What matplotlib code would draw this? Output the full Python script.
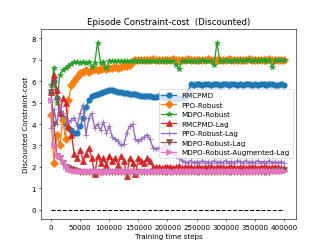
import numpy as np
import matplotlib
matplotlib.use("Agg")
import matplotlib.pyplot as plt

steps = np.arange(0, 400001, 5000)

labels = ["RMCPMD", "PPO-Robust", "MDPO-Robust", "RMCPMD-Lag", "PPO-Robust-Lag",
          "MDPO-Robust-Lag", "MDPO-Robust-Augmented-Lag"]

rmcpmd = [5.5, 6.0, 5.2, 4.5, 4.3, 4.0, 3.8, 3.7, 3.6, 3.6,
          3.9, 4.3, 4.8, 5.1, 5.3, 5.35, 5.4, 5.45, 5.5, 5.55,
          5.6, 5.58, 5.55, 5.5, 5.48, 5.45, 5.45, 5.4, 5.4, 5.38,
          5.35, 5.33, 5.3, 5.32, 5.3, 5.28, 5.28, 5.3, 5.28, 5.25,
          5.22, 5.22, 5.2, 5.18, 5.2, 5.2, 5.22, 5.5, 5.85, 5.84,
          5.86, 5.85, 5.83, 5.86, 5.85, 5.84, 5.87, 5.85, 5.83, 5.85,
          5.86, 5.84, 5.85, 5.86, 5.83, 5.85, 5.84, 5.86, 5.85, 5.84,
          5.85, 5.83, 5.86, 5.85, 5.84, 5.85, 5.86, 5.84, 5.83, 5.85, 5.84]

ppo_robust = [4.4, 2.2, 3.5, 3.0, 4.2, 3.3, 5.1, 5.8, 6.0, 6.2,
              6.4, 6.45, 6.5, 6.45, 6.5, 6.55, 6.5, 6.55, 6.6, 6.55,
              6.6, 6.6, 6.65, 6.6, 6.65, 6.7, 6.7, 6.75, 6.95, 6.98,
              7.0, 7.0, 7.01, 6.99, 7.0, 7.02, 7.0, 6.99, 7.01, 7.0,
              7.01, 7.0, 7.02, 7.0, 6.99, 7.01, 7.0, 7.02, 7.0, 7.01,
              7.0, 6.99, 7.01, 7.0, 7.02, 7.0, 7.01, 7.0, 6.99, 7.01,
              7.0, 7.02, 7.0, 7.01, 7.0, 6.99, 7.01, 7.0, 7.02, 7.0,
              7.01, 7.0, 6.99, 7.01, 7.0, 7.02, 7.0, 7.01, 7.0, 7.0, 7.0]

mdpo_robust = [5.8, 6.6, 5.0, 6.3, 6.5, 6.6, 6.7, 6.8, 6.9, 6.9,
               6.85, 6.9, 6.85, 6.9, 6.65, 6.85, 7.8, 6.85, 6.9, 6.6,
               6.92, 6.93, 6.92, 6.94, 6.93, 6.95, 6.94, 6.95, 6.95, 6.94,
               6.95, 6.96, 6.95, 6.95, 6.96, 6.95, 6.96, 6.95, 6.96, 6.96,
               6.95, 6.96, 6.95, 6.75, 6.55, 6.95, 6.96, 6.95, 6.96, 6.96,
               6.95, 6.96, 6.97, 6.96, 6.96, 6.95, 6.75, 7.8, 6.95, 6.96,
               6.97, 6.96, 6.96, 6.97, 6.96, 6.97, 6.96, 6.97, 6.97, 6.96,
               6.97, 6.96, 6.97, 6.97, 6.96, 6.97, 6.65, 6.97, 6.98, 6.97, 6.98]

rmcpmd_lag = [5.5, 6.3, 5.6, 4.5, 5.2, 5.0, 3.9, 3.5, 2.6, 2.4,
              2.8, 2.3, 2.6, 2.9, 2.4, 1.65, 2.5, 2.2, 2.4, 2.1,
              2.5, 2.3, 2.4, 2.1, 2.5, 2.3, 1.6, 2.4, 2.2, 1.65,
              2.4, 2.3, 2.2, 2.4, 2.3, 2.0, 1.98, 2.02, 1.95, 2.0,
              1.98, 2.02, 1.97, 2.0, 2.03, 1.96, 2.0, 2.02, 1.98, 1.95,
              2.0, 2.02, 1.97, 2.0, 1.98, 2.03, 1.96, 2.0, 2.02, 1.98,
              1.97, 2.0, 2.02, 1.98, 1.96, 2.0, 2.02, 1.97, 2.0, 1.98,
              2.02, 1.96, 2.0, 1.98, 2.02, 1.97, 2.0, 1.98, 2.0, 1.97, 1.96]

ppo_robust_lag = [3.8, 4.7, 4.0, 4.8, 4.5, 4.3, 4.1, 4.2, 4.3, 3.9,
                  4.5, 4.9, 3.5, 4.3, 4.5, 3.8, 4.0, 3.7, 4.1, 3.6,
                  3.9, 3.4, 3.3, 3.2, 3.0, 3.05, 3.6, 3.9, 4.0, 3.3,
                  3.2, 3.3, 3.4, 3.5, 3.3, 2.9, 2.85, 2.9, 2.85, 3.0,
                  2.9, 2.8, 2.6, 2.5, 2.4, 2.3, 2.25, 2.2, 2.3, 2.2,
                  2.25, 2.2, 2.3, 2.2, 2.25, 2.2, 2.3, 2.2, 2.25, 2.2,
                  2.3, 2.2, 2.25, 2.2, 2.3, 2.25, 2.2, 2.3, 2.2, 2.25,
                  2.2, 2.3, 2.2, 2.25, 2.2, 2.3, 2.2, 2.25, 2.2, 2.25, 2.2]

mdpo_robust_lag = [5.5, 4.0, 2.5, 2.4, 2.2, 2.0, 1.95, 1.9, 1.85, 1.8,
                   1.78, 1.77, 1.76, 1.77, 1.75, 1.76, 1.77, 1.75, 1.76, 1.75,
                   1.77, 1.76, 1.75, 1.76, 1.77, 1.75, 1.76, 1.75, 1.77, 1.76,
                   1.75, 1.76, 1.77, 1.75, 1.76, 1.75, 1.77, 1.76, 1.75, 1.76,
                   1.77, 1.75, 1.76, 1.75, 1.77, 1.76, 1.75, 1.76, 1.77, 1.75,
                   1.76, 1.75, 1.77, 1.76, 1.75, 1.76, 1.77, 1.75, 1.76, 1.75,
                   1.77, 1.76, 1.75, 1.76, 1.77, 1.75, 1.76, 1.75, 1.77, 1.76,
                   1.75, 1.76, 1.77, 1.76, 1.77, 1.78, 1.79, 1.8, 1.82, 1.84, 1.85]

mdpo_robust_aug_lag = [5.1, 3.0, 2.55, 2.5, 2.3, 2.05, 1.9, 1.85, 1.82, 1.8,
                       1.81, 1.79, 1.8, 1.82, 1.8, 1.79, 1.81, 1.8, 1.78, 1.8,
                       1.82, 1.8, 1.79, 1.81, 1.8, 1.82, 1.8, 1.79, 1.81, 1.8,
                       1.78, 1.8, 1.82, 1.8, 1.79, 1.81, 1.8, 1.82, 1.8, 1.79,
                       1.81, 1.8, 1.78, 1.8, 1.82, 1.8, 1.79, 1.81, 1.8, 1.82,
                       1.8, 1.79, 1.81, 1.8, 1.78, 1.8, 1.82, 1.8, 1.79, 1.81,
                       1.8, 1.82, 1.8, 1.79, 1.81, 1.8, 1.78, 1.8, 1.82, 1.8,
                       1.79, 1.81, 1.8, 1.82, 1.8, 1.79, 1.81, 1.8, 1.8, 1.81, 1.8]

spreads = [0.18, 0.06, 0.06, 0.12, 0.12, 0.05, 0.05]
markers = ["o", "D", "*", "^", "+", "v", ">"]
series = [rmcpmd, ppo_robust, mdpo_robust, rmcpmd_lag, ppo_robust_lag,
          mdpo_robust_lag, mdpo_robust_aug_lag]
threshold = 0.0

fig = plt.figure(figsize=(329 / 51.4, 247 / 51.4), dpi=51.4)
ax = fig.add_subplot(111)
for i, (lab, vals, mk, sp) in enumerate(zip(labels, series, markers, spreads)):
    v = np.array(vals)
    c = "C%d" % i
    ax.fill_between(steps, v - sp, v + sp, color=c, alpha=0.2, linewidth=0)
    ax.plot(steps, v, marker=mk, color=c, label=lab, markersize=7.5, linewidth=1.8)

ax.plot([steps[0], steps[-1]], [threshold, threshold], "k--", linewidth=1.5)
ax.set_xlim(-17000, 421000)
ax.set_ylim(-0.42, 8.45)
ax.set_title("Episode Constraint-cost  (Discounted)")
ax.set_xlabel("Training time steps")
ax.set_ylabel("Discounted Constraint-cost")
ax.legend(loc="center right")
fig.savefig("out.png", dpi=51.4)
